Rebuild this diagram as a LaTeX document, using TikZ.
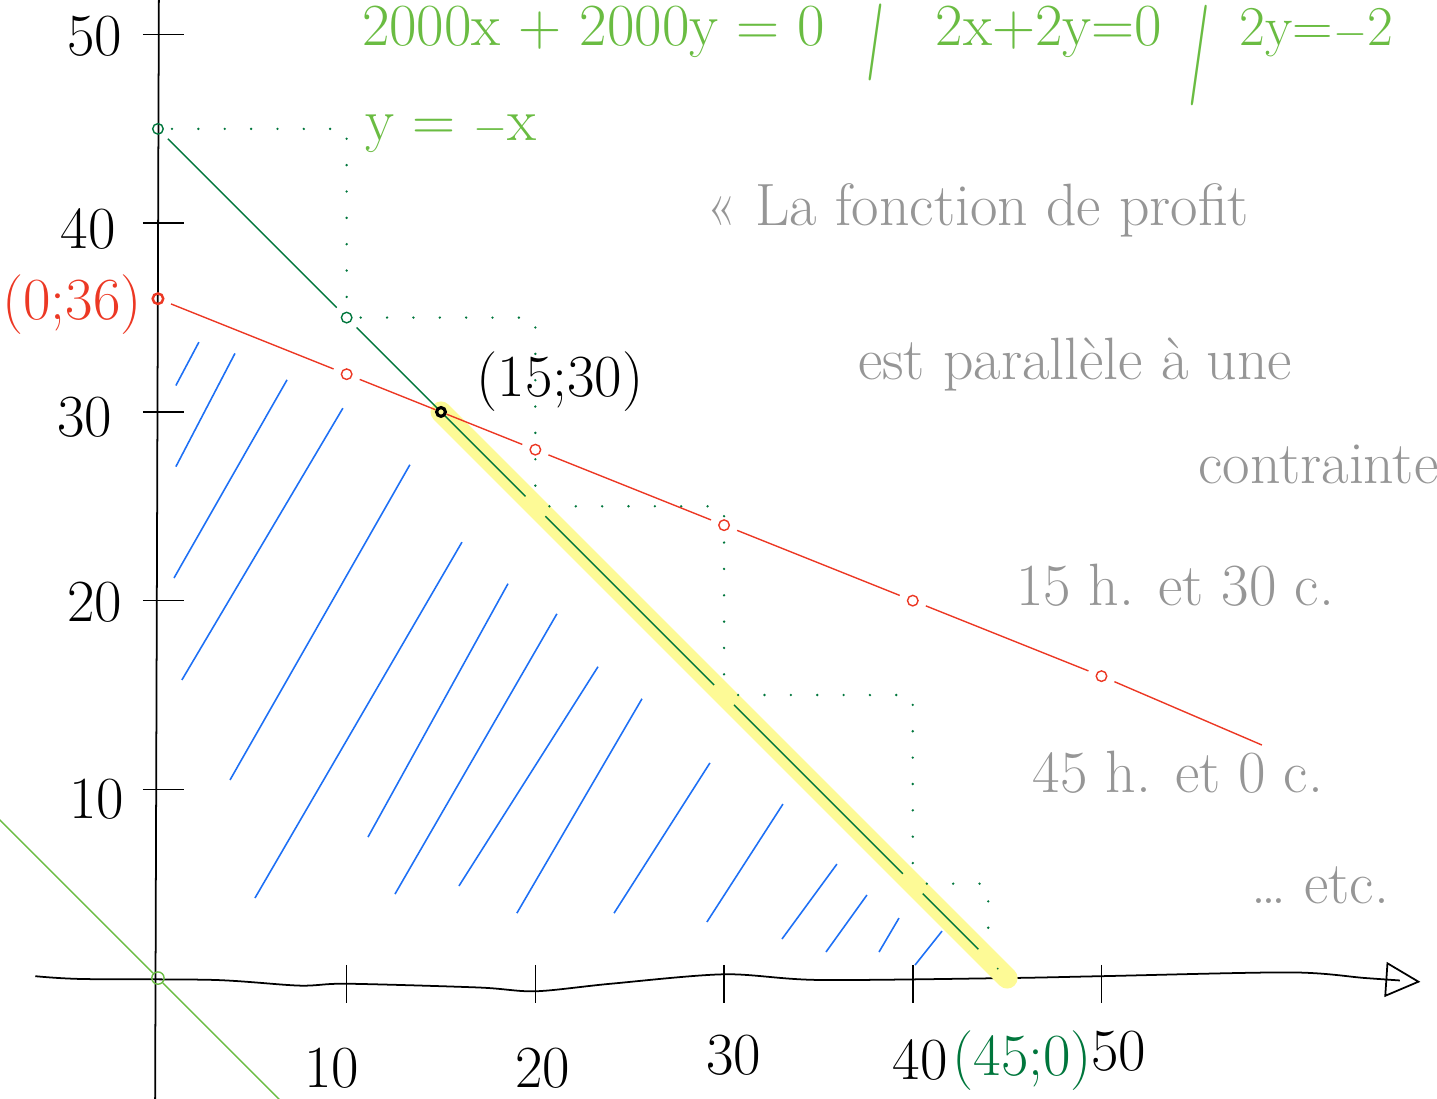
\documentclass[tikz,border=0pt]{standalone}
\usepackage{tikz}
\usetikzlibrary{arrows.meta}
\definecolor{rouge}{RGB}{236,56,36}
\definecolor{vert}{RGB}{0,118,60}
\definecolor{vertclair}{RGB}{106,188,66}
\definecolor{bleu}{RGB}{30,112,245}
\definecolor{jaune}{RGB}{253,250,150}
\definecolor{gris}{RGB}{150,150,150}
\tikzset{
  hand/.style  = {inner sep=0, font=\fontsize{34}{40}\selectfont},
  axe/.style   = {line width=1pt},
  tac/.style   = {line width=0.9pt},
  rpt/.style   = {circle, draw=rouge, thick, minimum size=6pt, inner sep=0, outer sep=5pt},
  gpt/.style   = {circle, draw=vert, thick, minimum size=6pt, inner sep=0, outer sep=5pt},
  opt/.style   = {circle, draw=vertclair, thick, minimum size=7pt, inner sep=0},
  sol/.style   = {circle, draw, line width=1.8pt, minimum size=5pt, inner sep=0},
  contr/.style = {rouge, line width=0.8pt},
  prof/.style  = {vert, line width=0.8pt},
  droite/.style= {vertclair, line width=0.8pt},
  pas/.style   = {vert, line width=1.5pt, line cap=round, dash pattern=on 0pt off 15pt},
  hach/.style  = {bleu, line width=0.9pt},
  surl/.style  = {jaune, line width=0.42cm, line cap=round},
  note/.style  = {hand, text=gris},
  eq/.style    = {hand, text=vertclair}
}
\begin{document}
\begin{tikzpicture}[x=0.3774cm, y=0.3774cm]
  \useasboundingbox (-8.37,-6.36) rectangle (67.78,51.83);

  % hachures
  \foreach \a/\b/\c/\d in {0.95/31.4/2.17/33.7, 0.95/27.1/4.08/33.1, 0.85/21.2/6.84/31.7,
      1.27/15.8/9.8/30.2, 3.82/10.5/13.35/27.2, 5.14/4.24/16.11/23.1, 11.13/7.47/18.55/20.9,
      12.56/4.45/21.14/19.3, 15.95/4.88/23.32/16.5, 19.02/3.44/25.65/14.8, 24.17/3.44/29.25/11.4,
      29.09/2.97/33.12/9.22, 33.07/2.07/35.98/6.04, 35.4/1.38/37.57/4.4, 38.21/1.38/39.27/3.18,
      40.12/0.69/41.55/2.49}
    \draw[hach] (\a,\b) -- (\c,\d);

  % axes
  \coordinate (ybas) at (-0.15,-6.5); \coordinate (yhaut) at (0.05,52);
  \draw[axe] (ybas) -- (yhaut);
  \draw[axe, -{Triangle[open, length=7mm, width=7mm]}] plot[smooth] coordinates {(-6.5,0.1) (-4,-0.05) (3,-0.1) (7.5,-0.4) (10,-0.3) (17,-0.5) (20,-0.7) (24,-0.3) (30,0.2) (35,-0.1) (45,0) (50,0.1) (60,0.3) (64,0) (66.9,-0.2)};
  \foreach \v in {10,20,...,50} {
    \draw[tac] (-0.8,\v) -- (1.4,\v);
    \draw[tac] (\v,0.7) -- (\v,-1.3);
  }
  \node[hand] (y50) at (-3.34,49.9) {50};
  \node[hand] (y40) at (-3.7,39.7) {40};
  \node[hand] (y30) at (-3.87,29.7) {30};
  \node[hand] (y20) at (-3.34,19.9) {20};
  \node[hand] (y10) at (-3.23,9.5) {10};
  \node[hand] (x10) at (9.2,-4.8) {10};
  \node[hand] (x20) at (20.4,-4.8) {20};
  \node[hand] (x30) at (30.5,-4.1) {30};
  \node[hand] (x40) at (40.4,-4.35) {40};
  \node[hand] (x50) at (50.9,-3.9) {50};

  % droite y = -x
  \coordinate (da) at (-8.4,8.4); \coordinate (db) at (6.6,-6.6);
  \node[opt] (o) at (0,0) {};
  \draw[droite] (da) -- (o) -- (db);

  % points
  \node[sol] (p) at (15,30) {};
  \node[rpt, line width=1.4pt] (r0) at (0,36) {};
  \node[rpt] (r10) at (10,32) {};
  \node[rpt] (r20) at (20,28) {};
  \node[rpt] (r30) at (30,24) {};
  \node[rpt] (r40) at (40,20) {};
  \node[rpt] (r50) at (50,16) {};
  \coordinate (rfin) at (58.5,12.35);
  \node[gpt] (g0) at (0,45) {};
  \node[gpt] (g10) at (10,35) {};
  \node[gpt] (g20) at (20,25) {};
  \node[gpt] (g30) at (30,15) {};
  \node[gpt] (g40) at (40,5) {};
  \node[gpt] (g44) at (44,1) {};
  \node[gpt] (g45) at (45,0) {};

  \draw[surl] (p.center) -- (g45.center);
  \draw[pas] (g0) -| (g10);
  \draw[pas] (g10) -| (g20);
  \draw[pas] (g20) -| (g30);
  \draw[pas] (g30) -| (g40);
  \draw[pas] (g40) -| (g44);
  \draw[prof] (g0) -- (g10) -- (p) -- (g20) -- (g30) -- (g40) -- (g44) -- (g45);
  \draw[contr] (r0) -- (r10) -- (p) -- (r20) -- (r30) -- (r40) -- (r50) -- (rfin);
  \node[sol] at (p) {};

  \node[hand, text=rouge] (l036) at (-4.56,35.7) {(0;36)};
  \node[hand] (l1530) at (21.3,31.6) {(15;30)};
  \node[hand, text=vert] (l450) at (45.8,-4.35) {(45;0)};

  % calculs
  \node[eq, anchor=base west] (e1) at (10.8,49.4) {2000x + 2000y = 0};
  \node[eq, rotate=-8, yscale=1.3] (s1) at (38.0,49.6) {|};
  \node[eq, anchor=base west] (e2) at (41.2,49.4) {2x+2y=0};
  \node[eq, rotate=-8, yscale=1.7] (s2) at (55.2,48.9) {|};
  \node[eq, anchor=base west, font=\fontsize{32}{38}\selectfont] (e3) at (57.3,49.4) {2y=$-$2};
  \node[eq, anchor=base west] (e4) at (10.97,44.4) {y = $-$x};

  % remarque
  \node[note] (n1) at (43.46,40.7) {« La fonction de profit};
  \node[note] (n2) at (48.6,32.5) {est parallèle à une};
  \node[note] (n3) at (61.5,27.2) {contrainte};
  \node[note] (n4) at (53.9,20.8) {15 h. et 30 c.};
  \node[note] (n5) at (54.05,10.9) {45 h. et 0 c.};
  \node[note] (n6) at (61.6,4.9) {\dots\ etc.};
\end{tikzpicture}
\end{document}
